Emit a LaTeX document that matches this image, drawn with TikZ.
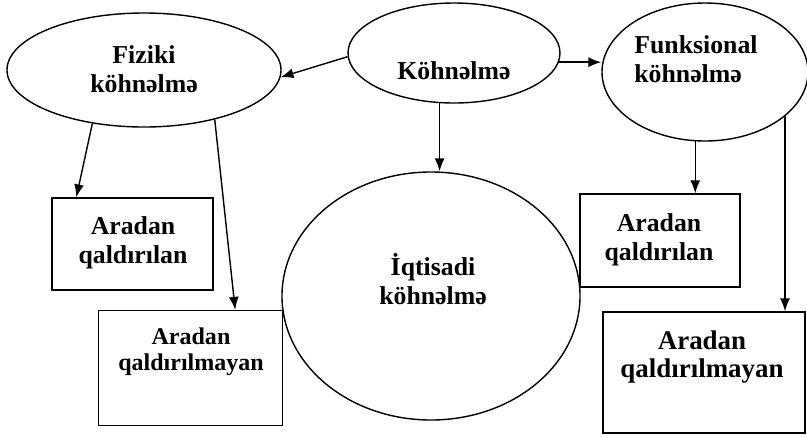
\documentclass[tikz,border=0pt]{standalone}
\usepackage{fontspec}
\setmainfont{Liberation Serif}
\usetikzlibrary{positioning,shapes.geometric,arrows.meta}

\begin{document}
\begin{tikzpicture}[x=0.03cm,y=-0.03cm,line width=1.2pt,
  oval/.style={draw, ellipse, inner sep=0pt},
  box/.style={draw, rectangle, inner sep=0pt},
  lbl/.style={font=\bfseries\fontsize{22}{24.5}\selectfont, align=center, inner sep=0pt},
  arr/.style={-{Latex[length=11pt,width=8.5pt]}}]
\useasboundingbox (0,0) rectangle (807,437);
\node[oval, minimum width=8.22cm, minimum height=3.42cm] (fiz) at (144,70) {};
\node[oval, minimum width=6.36cm, minimum height=3cm] (kohn) at (454,53) {};
\node[oval, minimum width=6.18cm, minimum height=4.14cm] (fun) at (705,72) {};
\node[oval, minimum width=8.94cm, minimum height=7.44cm] (iqt) at (431,296) {};
\node[box, minimum width=4.83cm, minimum height=2.76cm] (aqL) at (132.5,244) {};
\node[box, minimum width=5.52cm, minimum height=3.45cm] (amL) at (190.5,368) {};
\node[box, minimum width=4.8cm, minimum height=2.79cm] (aqR) at (660,240.5) {};
\node[box, minimum width=6.06cm, minimum height=3.63cm] (amR) at (704,372.5) {};
\node[lbl] (fiztxt) at (144,69) {Fiziki\\köhnəlmə};
\node[lbl] (kohntxt) at (454,71) {Köhnəlmə};
\node[lbl, align=left] (funtxt) at (696,59) {Funksional\\köhnəlmə};
\node[lbl] (iqttxt) at (433,279) {İqtisadi\\köhnəlmə};
\node[lbl] (aqLtxt) at (133,243) {Aradan\\qaldırılan};
\node[lbl, font=\bfseries\fontsize{20.5}{22}\selectfont] (amLtxt) at (191,352) {Aradan\\qaldırılmayan};
\node[lbl] (aqRtxt) at (659,240) {Aradan\\qaldırılan};
\node[lbl, font=\bfseries\fontsize{23}{24.5}\selectfont] (amRtxt) at (702,357) {Aradan\\qaldırılmayan};
\draw[arr] (kohn.182) -- (fiz.-3);
\draw[arr] (kohn.-5) -- (kohn.-5 -| fun.west);
\draw[arr] (kohn.-106) -- (kohn.-106 |- iqt.north);
\draw[arr] (fiz.-134) -- ([xshift=0.75cm]aqL.north west);
\draw[arr] (fiz.-35) -- ([xshift=-1.44cm]amL.north east);
\draw[arr] (fun.-98) -- (fun.-98 |- aqR.north);
\draw[arr] (fun.-29) -- (fun.-29 |- amR.north);
\end{tikzpicture}
\end{document}
